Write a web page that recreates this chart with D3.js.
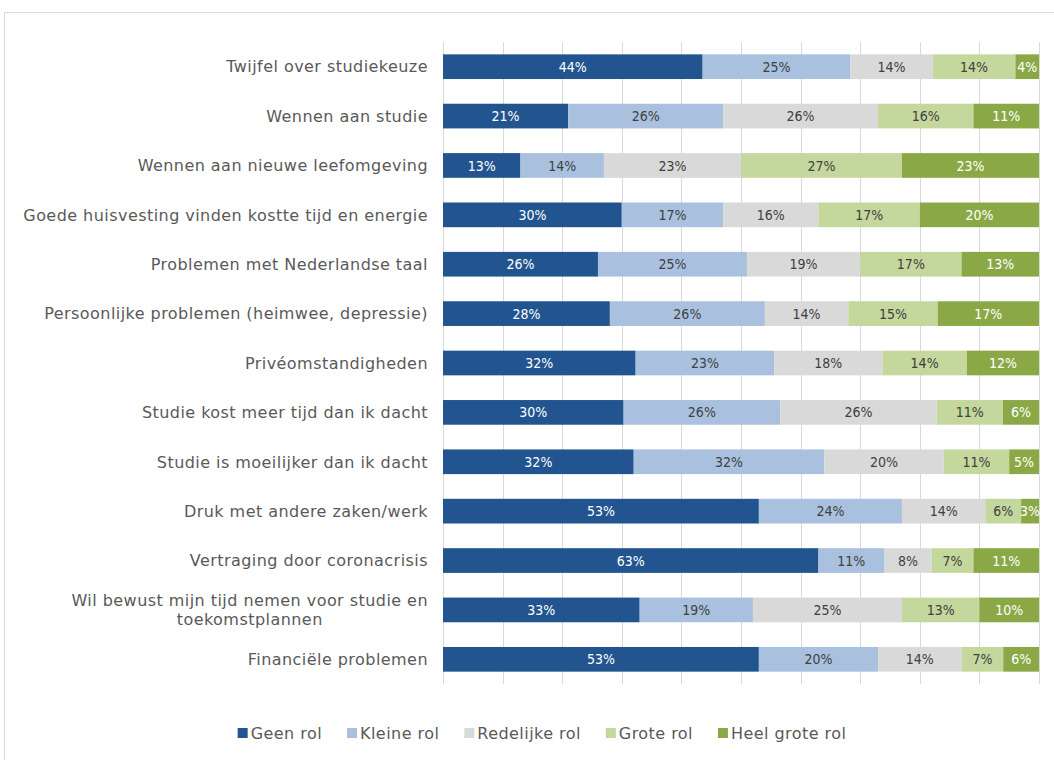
<!DOCTYPE html>
<html><head><meta charset="utf-8">
<script src="https://cdn.jsdelivr.net/npm/d3@7"></script>
<style>
body{margin:0;background:#fff;}
svg text{font-family:"DejaVu Sans Condensed","DejaVu Sans",sans-serif;}
svg text.cat, svg text.leg{font-family:"DejaVu Sans",sans-serif;letter-spacing:0.45px;}
</style></head>
<body><svg id="c" width="1054" height="760"></svg>
<script>
const categories = [
 "Twijfel over studiekeuze",
 "Wennen aan studie",
 "Wennen aan nieuwe leefomgeving",
 "Goede huisvesting vinden kostte tijd en energie",
 "Problemen met Nederlandse taal",
 "Persoonlijke problemen (heimwee, depressie)",
 "Privéomstandigheden",
 "Studie kost meer tijd dan ik dacht",
 "Studie is moeilijker dan ik dacht",
 "Druk met andere zaken/werk",
 "Vertraging door coronacrisis",
 "Wil bewust mijn tijd nemen voor studie en toekomstplannen",
 "Financiële problemen"
];
const categoryLines = {
 "Wil bewust mijn tijd nemen voor studie en toekomstplannen": ["Wil bewust mijn tijd nemen voor studie en","toekomstplannen"]
};
const seriesNames = ["Geen rol","Kleine rol","Redelijke rol","Grote rol","Heel grote rol"];
const geenRol      = [44,21,13,30,26,28,32,30,32,53,63,33,53];
const kleineRol    = [25,26,14,17,25,26,23,26,32,24,11,19,20];
const redelijkeRol = [14,26,23,16,19,14,18,26,20,14, 8,25,14];
const groteRol     = [14,16,27,17,17,15,14,11,11, 6, 7,13, 7];
const heelGroteRol = [ 4,11,23,20,13,17,12, 6, 5, 3,11,10, 6];
const seriesValues = [geenRol,kleineRol,redelijkeRol,groteRol,heelGroteRol];
const colors = ["#22558F","#A9C1DF","#D9D9D9","#C4D79C","#8AA946"];
const labelColors = ["#FFFFFF","#404040","#404040","#404040","#FFFFFF"];
const xTicks = d3.range(0,1.0001,0.1);

const svg = d3.select("#c");
// chart frame
svg.append("rect").attr("x",4.5).attr("y",12.5).attr("width",1100).attr("height",800)
  .attr("fill","none").attr("stroke","#D9D9D9").attr("stroke-width",1);

const x = d3.scaleLinear().domain([0,1]).range([443,1039]);
const y = d3.scaleBand().domain(categories).range([42,684]).paddingInner(0.5).paddingOuter(0.25);

// gridlines
svg.append("g").selectAll("line").data(xTicks).join("line")
  .attr("x1",d=>Math.round(x(d))+0.5).attr("x2",d=>Math.round(x(d))+0.5)
  .attr("y1",42).attr("y2",684).attr("stroke","#D9D9D9").attr("stroke-width",1);

// stacked data (100% stacked)
const rows = categories.map((c,i)=>{
  const vals = seriesValues.map(s=>s[i]);
  const tot = d3.sum(vals);
  let acc = 0;
  return vals.map((v,j)=>{const o={cat:c,j,v,x0:acc/tot,x1:(acc+v)/tot}; acc+=v; return o;});
});
const segs = rows.flat();

svg.append("g").selectAll("rect").data(segs).join("rect")
  .attr("x",d=>x(d.x0)).attr("width",d=>x(d.x1)-x(d.x0))
  .attr("y",d=>y(d.cat)).attr("height",y.bandwidth())
  .attr("fill",d=>colors[d.j]);

svg.append("g").selectAll("text").data(segs).join("text")
  .attr("x",d=>(x(d.x0)+x(d.x1))/2).attr("y",d=>y(d.cat)+y.bandwidth()/2)
  .attr("dy","0.36em").attr("text-anchor","middle")
  .attr("font-size",14).attr("fill",d=>labelColors[d.j])
  .text(d=>d.v+"%");

// category labels
const labelRight = 428;
const lg = svg.append("g");
categories.forEach(c=>{
  const lines = categoryLines[c] || [c];
  const cy = y(c)+y.bandwidth()/2;
  const lh = 19;
  const t = lg.append("text").attr("class","cat").attr("font-size",16).attr("fill","#595959");
  lines.forEach((l,k)=>{
    t.append("tspan").attr("y",cy+(k-(lines.length-1)/2)*lh).attr("dy","0.36em").text(l);
  });
  if(lines.length===1){
    t.attr("text-anchor","end").select("tspan").attr("x",labelRight);
  } else {
    const tspans = t.selectAll("tspan").nodes();
    const w = d3.max(tspans,n=>n.getComputedTextLength());
    t.attr("text-anchor","middle").selectAll("tspan").attr("x",labelRight-w/2);
  }
});

// legend
const leg = svg.append("g");
let lx = 0;
seriesNames.forEach((n,i)=>{
  const g = leg.append("g").attr("transform",`translate(${lx},0)`);
  g.append("rect").attr("x",0).attr("y",-5).attr("width",10).attr("height",10).attr("fill",colors[i]);
  const t = g.append("text").attr("class","leg").attr("x",13).attr("y",0).attr("dy","0.36em")
    .attr("font-size",16).attr("fill","#595959").text(n);
  lx += 13 + t.node().getComputedTextLength() + 25;
});
const totalW = lx - 25;
leg.attr("transform",`translate(${542-totalW/2},733)`);
</script></body></html>
